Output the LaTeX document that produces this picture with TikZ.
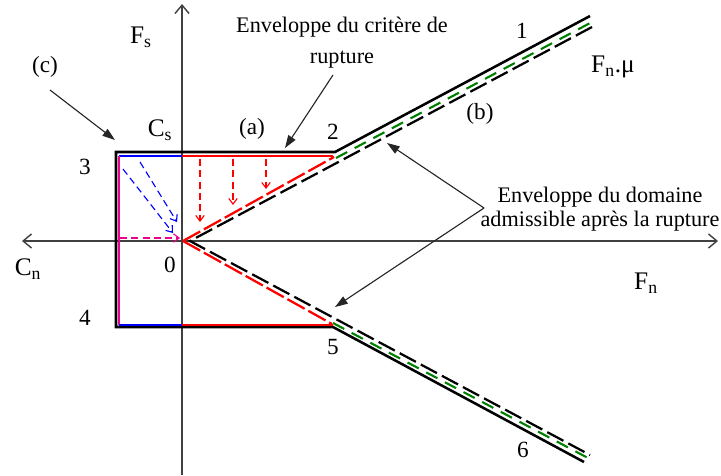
\documentclass[tikz,border=0pt]{standalone}
\usepackage{fontspec}
\setmainfont{Liberation Serif}
\usetikzlibrary{arrows.meta, positioning, calc}

\begin{document}
\begin{tikzpicture}[x=0.025cm, y=-0.025cm,
        axis/.style={draw=black!75, line width=1pt},
        bound/.style={black, line width=1.8pt},
        crit/.style={line width=1.6pt},
        env/.style={black, line width=1.6pt, dash pattern=on 13pt off 4pt},
        slide/.style={green!50!black, line width=1.5pt, dash pattern=on 9pt off 6pt},
        flow/.style={line width=0.8pt, dash pattern=on 5pt off 3pt, -{Straight Barb[length=4pt,width=6pt]}},
        pointer/.style={black!85, line width=0.8pt, -{Triangle[length=9pt,width=6pt]}},
        lbl/.style={font=\fontsize{16.5}{18}\selectfont},
        big/.style={font=\fontsize{18}{20}\selectfont},
        note/.style={font=\fontsize{15.8}{17}\selectfont, align=center}
    ]
        \useasboundingbox (0,0) rectangle (721,475);

        % axes
        \coordinate (O) at (182,241);
        \coordinate (ytop) at (182,4);
        \coordinate (ybot) at (182,475);
        \coordinate (xl) at (22,241);
        \coordinate (xr) at (718,241);
        \draw[axis, {Straight Barb[length=6pt,width=10pt]}-{Straight Barb[length=6pt,width=10pt]}] (xl) -- (xr);
        \draw[axis, -{Straight Barb[length=6pt,width=10pt]}] (ybot) -- (ytop);

        % corner points
        \coordinate (p1) at (590,16);
        \coordinate (p2) at (335,152);
        \coordinate (p3) at (116,152);
        \coordinate (p4) at (116,327);
        \coordinate (p5) at (333,327);
        \coordinate (p6) at (584,462);

        % rupture criterion (black)
        \draw[bound] (p1) -- (p2) -- (p3) -- (p4) -- (p5) -- (p6);

        % colored envelope inside
        \draw[crit, red] (182,156) -- (333,156);
        \draw[crit, blue] (119,156) -- (182,156);
        \draw[crit, magenta] (119,156) -- (119,325);
        \draw[crit, blue] (119,325) -- (182,325);
        \draw[crit, red] (182,325) -- (333,325);
        \draw[crit, red, dash pattern=on 14pt off 3pt] (183,241) -- (334,157);
        \draw[crit, red, dash pattern=on 14pt off 3pt] (183,241) -- (332,324);

        % admissible domain after rupture
        \draw[slide] (336,158) -- (592,22);
        \draw[slide] (333,323) -- (588,458);
        \draw[env] (592,27) -- (190,241) -- (590,455);

        % flow of the stress state
        \foreach \x/\y in {200/222, 233/205, 266/189}
            \draw[flow, red] (\x,159) -- (\x,\y);
        \draw[flow, blue] (123,169) -- (173,233);
        \draw[flow, blue] (140,162) -- (177,222);
        \draw[flow, magenta] (120,238) -- (180,238);

        % labels
        \node[big] (fs) at (141,37) {F\textsubscript{s}};
        \node[big] (fn) at (646,283) {F\textsubscript{n}};
        \node[big] (cn) at (28,269) {C\textsubscript{n}};
        \node[big] (cs) at (160,130) {C\textsubscript{s}};
        \node[big] (fnmu) at (613,67) {F\textsubscript{n}.μ};
        \node[lbl] (a) at (252,129) {(a)};
        \node[lbl] (b) at (480,114) {(b)};
        \node[lbl] (c) at (45,67) {(c)};
        \node[lbl] (n0) at (170,265) {0};
        \node[lbl] (n1) at (522,31) {1};
        \node[lbl] (n2) at (333,132) {2};
        \node[lbl] (n3) at (85,167) {3};
        \node[lbl] (n4) at (85,318) {4};
        \node[lbl] (n5) at (333,347) {5};
        \node[lbl] (n6) at (523,450) {6};

        \node[note] (crit) at (342,43) {Enveloppe du critère de\\[5pt]rupture};
        \node[note] (dom) at (600,209) {Enveloppe du domaine\\admissible après la rupture};

        % pointers
        \coordinate (cstart) at (50,90);
        \coordinate (cend) at (115,140);
        \coordinate (rstart) at (333,75);
        \coordinate (rend) at (285,148);
        \coordinate (dstart) at (484,208);
        \coordinate (dup) at (387,143);
        \coordinate (ddown) at (335,307);
        \draw[pointer] (cstart) -- (cend);
        \draw[pointer] (rstart) -- (rend);
        \draw[pointer] (dstart) -- (dup);
        \draw[pointer] (dstart) -- (ddown);
    \end{tikzpicture}
\end{document}
